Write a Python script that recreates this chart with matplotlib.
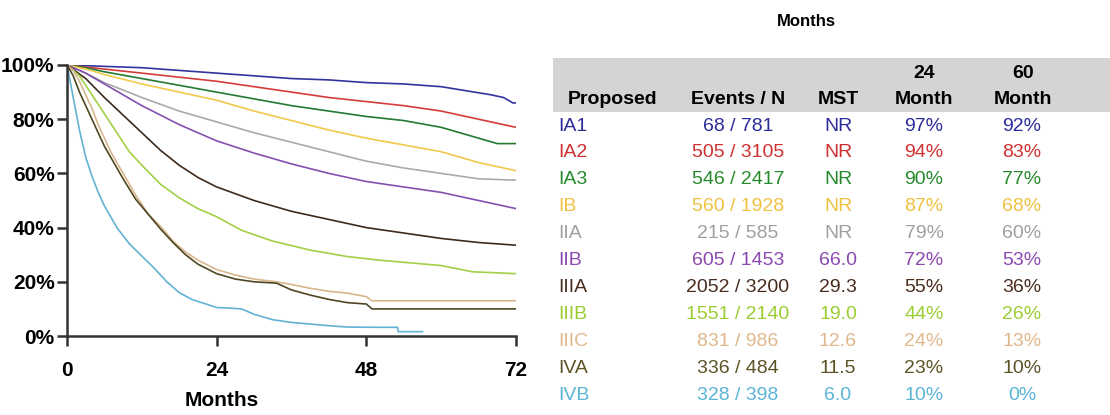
import matplotlib
matplotlib.use('Agg')
import matplotlib.pyplot as plt
from matplotlib.patches import Rectangle
from matplotlib.ticker import FuncFormatter

# survival curves per proposed stage: (month, % surviving)
stages = ['IA1', 'IA2', 'IA3', 'IB', 'IIA', 'IIB', 'IIIA', 'IIIB', 'IIIC', 'IVA', 'IVB']

months_ia1 = [0, 6, 12, 18, 24, 30, 36, 42, 48, 54, 60, 64, 68, 70, 71.5, 72]
surv_ia1 = [100, 99.5, 99, 98, 97, 96, 95, 94.5, 93.5, 93, 92, 90.5, 89, 88, 86, 86]

months_ia2 = [0, 6, 12, 18, 24, 30, 36, 42, 48, 54, 60, 66, 72]
surv_ia2 = [100, 98.5, 97, 95.5, 94, 92, 90, 88, 86.5, 85, 83, 80, 77]

months_ia3 = [0, 3, 6, 12, 18, 24, 30, 36, 42, 48, 54, 60, 66, 69, 72]
surv_ia3 = [100, 99, 97.5, 95, 92.5, 90, 87.5, 85, 83, 81, 79.5, 77, 73, 71, 71]

months_ib = [0, 3, 6, 12, 18, 24, 30, 36, 42, 48, 54, 60, 66, 72]
surv_ib = [100, 98.5, 96.5, 93, 90, 87, 83, 79.5, 76, 73, 70.5, 68, 64, 61]

months_iia = [0, 3, 6, 12, 18, 24, 30, 36, 42, 48, 54, 60, 66, 72]
surv_iia = [100, 97, 93.5, 88, 83, 79, 75, 71.5, 68, 64.5, 62, 60, 58, 57.5]

months_iib = [0, 3, 6, 12, 18, 24, 30, 36, 42, 48, 54, 60, 66, 72]
surv_iib = [100, 97, 93, 85, 78, 72, 67.5, 63.5, 60, 57, 55, 53, 50, 47]

months_iiia = [0, 3, 6, 9, 12, 15, 18, 21, 24, 30, 36, 42, 48, 54, 60, 66, 72]
surv_iiia = [100, 95, 88, 81.5, 75, 68.5, 63, 58.5, 55, 50, 46, 43, 40, 38, 36, 34.5, 33.5]

months_iiib = [0, 2, 4, 6, 8, 10, 12, 15, 18, 21, 24, 28, 33, 39, 45, 50, 55, 60, 65, 72]
surv_iiib = [100, 96, 89, 82, 75, 68, 63, 56, 51, 47, 44, 39, 35, 31.7, 29.3, 28, 27, 26, 23.7, 23]

months_iiic = [0, 1, 2, 3, 4, 5, 6, 7, 9, 11, 13, 15, 17, 19, 21, 24, 27, 30, 33.6, 36,
               39, 42, 45, 48, 48.9, 72]
surv_iiic = [100, 98, 94, 89, 84, 78, 73, 68, 60, 52, 45, 40.5, 35, 31, 28, 24.5, 22.5, 21, 20, 19,
             17.6, 16.5, 15.8, 14.5, 13, 13]

months_iva = [0, 1, 2, 3, 4, 5, 6, 7, 9, 11, 13, 15, 17, 19, 21, 24, 27, 30, 33.6, 36,
              39, 42, 45, 48, 48.9, 72]
surv_iva = [100, 96, 90, 85, 80, 75, 70, 66, 58, 50.5, 45, 39.5, 34.5, 30, 26.5, 23, 21, 20, 19.5, 17,
            15.1, 13.5, 12.3, 11.8, 10, 10]

months_ivb = [0, 1, 2, 3, 4, 5, 6, 7, 8, 9, 10, 12, 14, 16, 18, 20, 22, 24, 26, 28, 30, 33,
              36, 39, 42, 45, 50, 53, 53.1, 57]
surv_ivb = [100, 88, 76, 66, 59, 53, 48, 44, 40, 37, 34, 29.5, 25, 20, 16, 13.5, 12, 10.5, 10.3, 10, 8, 6,
            5, 4.4, 3.8, 3.3, 3.2, 3.2, 1.6, 1.6]

curve_months = [months_ia1, months_ia2, months_ia3, months_ib, months_iia, months_iib,
                months_iiia, months_iiib, months_iiic, months_iva, months_ivb]
curve_surv = [surv_ia1, surv_ia2, surv_ia3, surv_ib, surv_iia, surv_iib,
              surv_iiia, surv_iiib, surv_iiic, surv_iva, surv_ivb]

# summary table
events_n = ['68 / 781', '505 / 3105', '546 / 2417', '560 / 1928', '215 / 585', '605 / 1453',
            '2052 / 3200', '1551 / 2140', '831 / 986', '336 / 484', '328 / 398']
mst = ['NR', 'NR', 'NR', 'NR', 'NR', '66.0', '29.3', '19.0', '12.6', '11.5', '6.0']
surv_24 = ['97%', '94%', '90%', '87%', '79%', '72%', '55%', '44%', '24%', '23%', '10%']
surv_60 = ['92%', '83%', '77%', '68%', '60%', '53%', '36%', '26%', '13%', '10%', '0%']

line_colors = ['#3333a0', '#d43c3c', '#237a30', '#f2c94c', '#aaaaaa', '#8450b0',
               '#3e2a1c', '#a2d046', '#d9b68c', '#4e4722', '#62b2d4']
text_colors = ['#2b2b9c', '#d03030', '#268a2c', '#f0c040', '#a0a0a0', '#8b48b0',
               '#4a2c1c', '#9acd32', '#e0b88a', '#5c5226', '#5ab4d6']

plt.rcParams['font.family'] = ['Liberation Sans', 'DejaVu Sans']

W, H = 1110, 415
fig = plt.figure(figsize=(W / 100, H / 100), dpi=100)


def fx(px):
    return px / W


def fy(py):
    return 1 - py / H


ax = fig.add_axes([fx(67), fy(336), fx(516) - fx(67), fy(65) - fy(336)])
for m, s, c in zip(curve_months, curve_surv, line_colors):
    ax.plot(m, s, color=c, linewidth=1.2)

ax.set_xlim(0, 72)
ax.set_ylim(0, 100)
ax.set_xticks([0, 24, 48, 72])
ax.set_yticks([0, 20, 40, 60, 80, 100])
ax.yaxis.set_major_formatter(FuncFormatter(lambda v, p: '%d%%' % v))
for side in ['top', 'right']:
    ax.spines[side].set_visible(False)
for side in ['left', 'bottom']:
    ax.spines[side].set_linewidth(1.8)
    ax.spines[side].set_color('#333333')
ax.tick_params(direction='out', length=7, width=1.8, color='#333333', labelsize=15)
ax.tick_params(axis='x', pad=11)
ax.tick_params(axis='y', pad=2)
for lbl in ax.get_xticklabels() + ax.get_yticklabels():
    lbl.set_fontweight('bold')
ax.set_xlabel('Months', fontsize=15, fontweight='bold')
ax.xaxis.set_label_coords((222 - 67) / 449, (336 - 400) / 271)
ax.xaxis.label.set_va('center')

# table header band
fig.patches.append(Rectangle((fx(553), fy(112)), fx(1110) - fx(553), fy(58) - fy(112),
                             transform=fig.transFigure, facecolor='#d4d4d4',
                             edgecolor='none'))

fig.text(fx(806), fy(22), 'Months', ha='center', va='center', fontsize=12,
         fontweight='bold')

hdr = dict(ha='center', va='center', fontsize=14, fontweight='bold', color='black')
fig.text(fx(613), fy(100), 'Proposed', **hdr)
fig.text(fx(738), fy(100), 'Events / N', **hdr)
fig.text(fx(838), fy(100), 'MST', **hdr)
fig.text(fx(924), fy(73), '24', **hdr)
fig.text(fx(924), fy(100), 'Month', **hdr)
fig.text(fx(1023), fy(73), '60', **hdr)
fig.text(fx(1023), fy(100), 'Month', **hdr)

row_y0, row_step = 126, 26.9
for i, st in enumerate(stages):
    y = fy(row_y0 + i * row_step)
    c = text_colors[i]
    kw = dict(va='center', fontsize=14, color=c)
    fig.text(fx(558), y, st, ha='left', **kw)
    fig.text(fx(738), y, events_n[i], ha='center', **kw)
    fig.text(fx(838), y, mst[i], ha='center', **kw)
    fig.text(fx(924), y, surv_24[i], ha='center', **kw)
    fig.text(fx(1022), y, surv_60[i], ha='center', **kw)

fig.savefig('out.png', dpi=100)
